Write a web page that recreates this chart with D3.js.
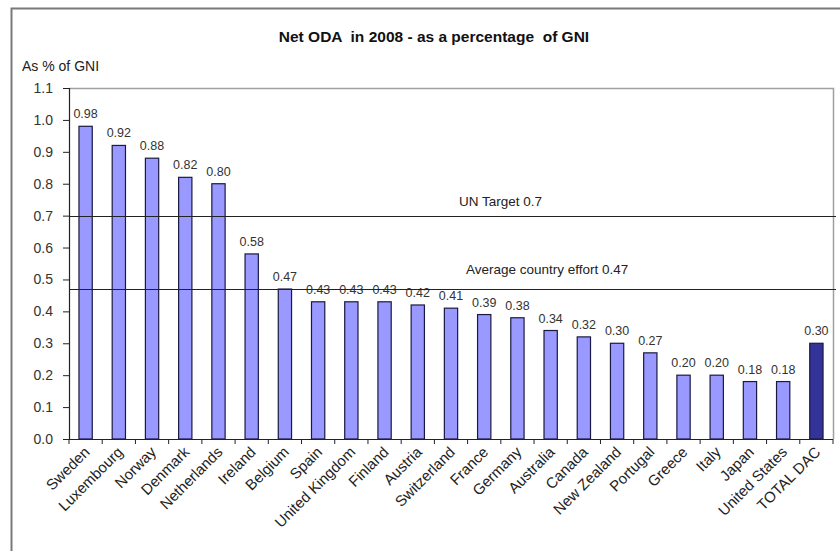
<!DOCTYPE html>
<html>
<head>
<meta charset="utf-8">
<script src="https://cdn.jsdelivr.net/npm/d3@7"></script>
<style>
  body { margin: 0; background: #fff; }
  text { font-family: "Liberation Sans", Arial, sans-serif; }
</style>
</head>
<body>
<svg id="chart" width="840" height="551"></svg>
<script>
// Countries, in chart order
const countries = ["Sweden", "Luxembourg", "Norway", "Denmark", "Netherlands", "Ireland",
    "Belgium", "Spain", "United Kingdom", "Finland", "Austria", "Switzerland", "France",
    "Germany", "Australia", "Canada", "New Zealand", "Portugal", "Greece", "Italy", "Japan",
    "United States", "TOTAL DAC"];

// Net ODA as % of GNI
const odaValues = [0.98, 0.92, 0.88, 0.82, 0.80, 0.58, 0.47, 0.43, 0.43, 0.43, 0.42, 0.41,
    0.39, 0.38, 0.34, 0.32, 0.30, 0.27, 0.20, 0.20, 0.18, 0.18, 0.30];

const yTicks = [0.0, 0.1, 0.2, 0.3, 0.4, 0.5, 0.6, 0.7, 0.8, 0.9, 1.0, 1.1];

// Reference lines
const refLines = [
    { value: 0.7, label: "UN Target 0.7" },
    { value: 0.47, label: "Average country effort 0.47" }
];

const data = countries.map((c, i) => ({ country: c, value: odaValues[i] }));

const svg = d3.select("#chart");
const plotLeft = 69, plotRight = 833, plotTop = 88, plotBottom = 439;

// outer frame
svg.append("path")
    .attr("d", `M11.5,551 V8.5 H840`)
    .attr("fill", "none")
    .attr("stroke", "#7a7a7a")
    .attr("stroke-width", 2);

const x = d3.scaleBand()
    .domain(countries)
    .range([plotLeft, plotRight])
    .paddingInner(0.6)
    .paddingOuter(0.3);

const y = d3.scaleLinear()
    .domain([0, 1.1])
    .range([plotBottom, plotTop]);

// plot area border (top and right)
svg.append("path")
    .attr("d", `M${plotLeft},${plotTop + 0.5} H${plotRight + 0.5} V${plotBottom}`)
    .attr("fill", "none")
    .attr("stroke", "#a0a0a0")
    .attr("stroke-width", 1.5);

// title
svg.append("text")
    .attr("x", 434)
    .attr("y", 42)
    .attr("text-anchor", "middle")
    .attr("font-size", "15.5px")
    .attr("font-weight", "bold")
    .attr("fill", "#111")
    .attr("xml:space", "preserve")
    .text("Net ODA  in 2008 - as a percentage  of GNI");

svg.append("text")
    .attr("x", 22)
    .attr("y", 71)
    .attr("font-size", "14px")
    .attr("fill", "#222")
    .text("As % of GNI");

// bars
svg.selectAll(".bar")
    .data(data)
    .enter().append("rect")
    .attr("class", "bar")
    .attr("x", d => x(d.country))
    .attr("width", x.bandwidth())
    .attr("y", d => y(d.value))
    .attr("height", d => y(0) - y(d.value))
    .attr("fill", d => d.country === "TOTAL DAC" ? "#333399" : "#9999ff")
    .attr("stroke", "#1a1a40")
    .attr("stroke-width", 1.2);

// value labels
svg.selectAll(".value-label")
    .data(data)
    .enter().append("text")
    .attr("class", "value-label")
    .attr("x", d => x(d.country) + x.bandwidth() / 2)
    .attr("y", d => y(d.value) - 8)
    .attr("text-anchor", "middle")
    .attr("font-size", "12.5px")
    .attr("fill", "#333")
    .text(d => d3.format(".2f")(d.value));

// reference lines
refLines.forEach(r => {
    svg.append("line")
        .attr("x1", plotLeft)
        .attr("x2", plotRight + 3)
        .attr("y1", Math.round(y(r.value)) + 0.5)
        .attr("y2", Math.round(y(r.value)) + 0.5)
        .attr("stroke", "#222")
        .attr("stroke-width", 1.2);
});

svg.append("text")
    .attr("x", 459)
    .attr("y", 206)
    .attr("font-size", "13.5px")
    .attr("fill", "#222")
    .text(refLines[0].label);

svg.append("text")
    .attr("x", 466)
    .attr("y", 274)
    .attr("font-size", "13.5px")
    .attr("fill", "#222")
    .text(refLines[1].label);

// y axis
const yAxis = svg.append("g")
    .attr("transform", `translate(${plotLeft},0)`)
    .call(d3.axisLeft(y).tickValues(yTicks).tickFormat(d3.format(".1f")).tickSize(6).tickPadding(10));
yAxis.select(".domain").attr("stroke", "#222").attr("stroke-width", 1.2);
yAxis.selectAll(".tick line").attr("stroke", "#222");
yAxis.selectAll(".tick text")
    .attr("font-size", "14px")
    .attr("font-family", "Liberation Sans, Arial, sans-serif")
    .attr("fill", "#333");

// x axis: ticks at band boundaries
const boundaries = d3.range(countries.length + 1)
    .map(i => plotLeft + i * (plotRight - plotLeft) / countries.length);
const xAxis = svg.append("g");
xAxis.append("line")
    .attr("x1", plotLeft).attr("x2", plotRight)
    .attr("y1", plotBottom + 0.5).attr("y2", plotBottom + 0.5)
    .attr("stroke", "#222")
    .attr("stroke-width", 1.2);
xAxis.selectAll(".xtick")
    .data(boundaries)
    .enter().append("line")
    .attr("x1", d => d).attr("x2", d => d)
    .attr("y1", plotBottom).attr("y2", plotBottom + 5)
    .attr("stroke", "#222");

xAxis.selectAll(".xlabel")
    .data(countries)
    .enter().append("text")
    .attr("text-anchor", "end")
    .attr("font-size", "15px")
    .attr("fill", "#222")
    .attr("transform", c => `translate(${x(c) + x.bandwidth() / 2 + 5},${plotBottom + 14}) rotate(-45)`)
    .text(c => c);
</script>
</body>
</html>
